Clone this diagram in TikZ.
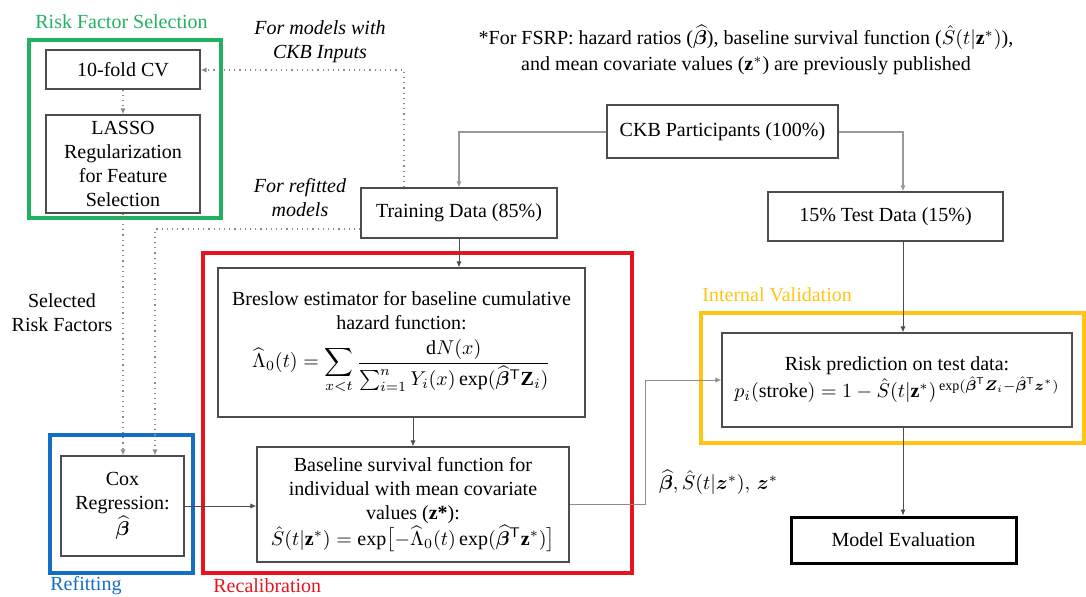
\documentclass[tikz,border=0pt]{standalone}
\usepackage{fontspec}
\usepackage{amsmath,bm}
\setmainfont{Liberation Serif}
\usetikzlibrary{arrows.meta}
\definecolor{rfgreen}{RGB}{34,177,96}
\definecolor{rfblue}{RGB}{20,110,195}
\definecolor{rcred}{RGB}{230,20,30}
\definecolor{ivyellow}{RGB}{255,196,20}
\begin{document}
\begin{tikzpicture}[x=0.5pt,y=-0.5pt,font=\fontsize{10}{12}\selectfont,
	box/.style={draw=black!70,line width=0.6pt,align=center,inner sep=2pt},
	frame/.style={line width=1.6pt},
	flow/.style={draw=black!70,line width=0.5pt,-{Latex[length=3pt,width=2.6pt]}},
	split/.style={draw=black!40,line width=1pt,-{Latex[length=3pt,width=2.6pt]}},
	dots/.style={draw=black!45,dotted,line width=0.6pt,-{Latex[length=3pt,width=2.6pt]}},
	note/.style={align=center,font=\fontsize{10}{12}\selectfont\itshape}]
\useasboundingbox (0,0) rectangle (1086,596);
% frames
\draw[frame,rfgreen] (29,40) rectangle (221,218);
\draw[frame,rfblue] (50,435) rectangle (193,573);
\draw[frame,rcred] (203,253) rectangle (632,573);
\draw[frame,ivyellow] (701,313) rectangle (1084,443);
\node[rfgreen,anchor=west,inner sep=0] (lblsel) at (35,22) {Risk Factor Selection};
\node[rfblue,anchor=west,inner sep=0] (lblref) at (50,586) {Refitting};
\node[rcred,anchor=west,inner sep=0] (lblrec) at (213,586) {Recalibration};
\node[ivyellow,anchor=west,inner sep=0] (lblval) at (702,295) {Internal Validation};
% boxes
\node[box,minimum width=77pt,minimum height=19.5pt] (cv) at (123,69.5) {10-fold CV};
\node[box,minimum width=77pt,minimum height=49pt] (lasso) at (123,164) {LASSO\\Regularization\\for Feature\\Selection};
\node[box,minimum width=115.5pt,minimum height=26.5pt] (ckb) at (722.5,131.5) {CKB Participants (100\%)};
\node[box,minimum width=98pt,minimum height=25pt] (train) at (459,213) {Training Data (85\%)};
\node[box,minimum width=117.5pt,minimum height=24.5pt] (test) at (885.5,216.5) {15\% Test Data (15\%)};
\node[box,minimum width=183.5pt,minimum height=74.5pt] (breslow) at (401.5,342.5)
	{Breslow estimator for baseline cumulative\\hazard function:\\[4pt]
	$\displaystyle\widehat{\Lambda}_0(t)=\sum_{x<t}\frac{\mathrm{d}N(x)}{\sum_{i=1}^{n}Y_i(x)\exp(\widehat{\bm\beta}^{\mathsf T}\mathbf{Z}_i)}$};
\node[box,minimum width=156pt,minimum height=57.5pt] (baseline) at (413,504.5)
	{Baseline survival function for\\individual with mean covariate\\values (\textbf{z*}):\\[1pt]
	$\hat S(t|\mathbf{z}^*)=\exp\bigl[-\widehat{\Lambda}_0(t)\exp(\widehat{\bm\beta}^{\mathsf T}\mathbf{z}^*)\bigr]$};
\node[box,minimum width=61.5pt,minimum height=50pt] (cox) at (122.5,506) {Cox\\Regression:\\$\widehat{\bm\beta}$};
\node[box,minimum width=175pt,minimum height=47pt] (risk) at (897,380)
	{Risk prediction on test data:\\
	$p_i(\text{stroke})=1-\hat S(t|\mathbf{z}^*)^{\,\exp(\hat{\bm\beta}^{\mathsf T}\bm Z_i-\hat{\bm\beta}^{\mathsf T}\bm z^*)}$};
\node[box,draw=black,line width=1.5pt,minimum width=112.5pt,minimum height=23pt] (eval) at (903.5,540) {Model Evaluation};
% texts
\node[note] (ckbin) at (320,42) {For models with\\CKB Inputs};
\node[note] (refit) at (300,198) {For refitted\\models};
\node[align=center] (selrf) at (62,313) {Selected\\Risk Factors};
\node[align=center] (fsrp) at (746,50)
	{*For FSRP: hazard ratios ($\widehat{\bm\beta}$), baseline survival function ($\hat S(t|\mathbf{z}^*)$),\\[1pt]
	and mean covariate values ($\mathbf{z}^*$) are previously published};
% connectors
\coordinate (vx) at (903,0);
\coordinate (ck) at (404,70);
\coordinate (rf) at (155,229);
\coordinate (bend) at (645,380);
\draw[split] (ckb.west) -| (train.north);
\draw[split] (ckb.east) -| (vx |- test.north);
\draw[flow] (train.south) -- (train.south |- breslow.north);
\draw[flow] (baseline.north |- breslow.south) -- (baseline.north);
\draw[flow] (cox.east) -- (cox.east -| baseline.west);
\draw[flow,draw=black!45] (baseline.east) -| (bend) -- (risk.west);
\node[anchor=west] (plabel) at (652,482) {$\widehat{\bm\beta},\hat S(t|\bm z^*),\,\bm z^*$};
\draw[flow] (vx |- test.south) -- (vx |- risk.north);
\draw[flow] (vx |- risk.south) -- (vx |- eval.north);
\draw[dots] (cv.south) -- (lasso.north);
\draw[dots] (lasso.south) -- (lasso.south |- cox.north);
\draw[dots] (rf -| train.west) -- (rf) -- (rf |- cox.north);
\draw[dots] (ck |- train.north) -- (ck) -- (ck -| cv.east);
\end{tikzpicture}
\end{document}
